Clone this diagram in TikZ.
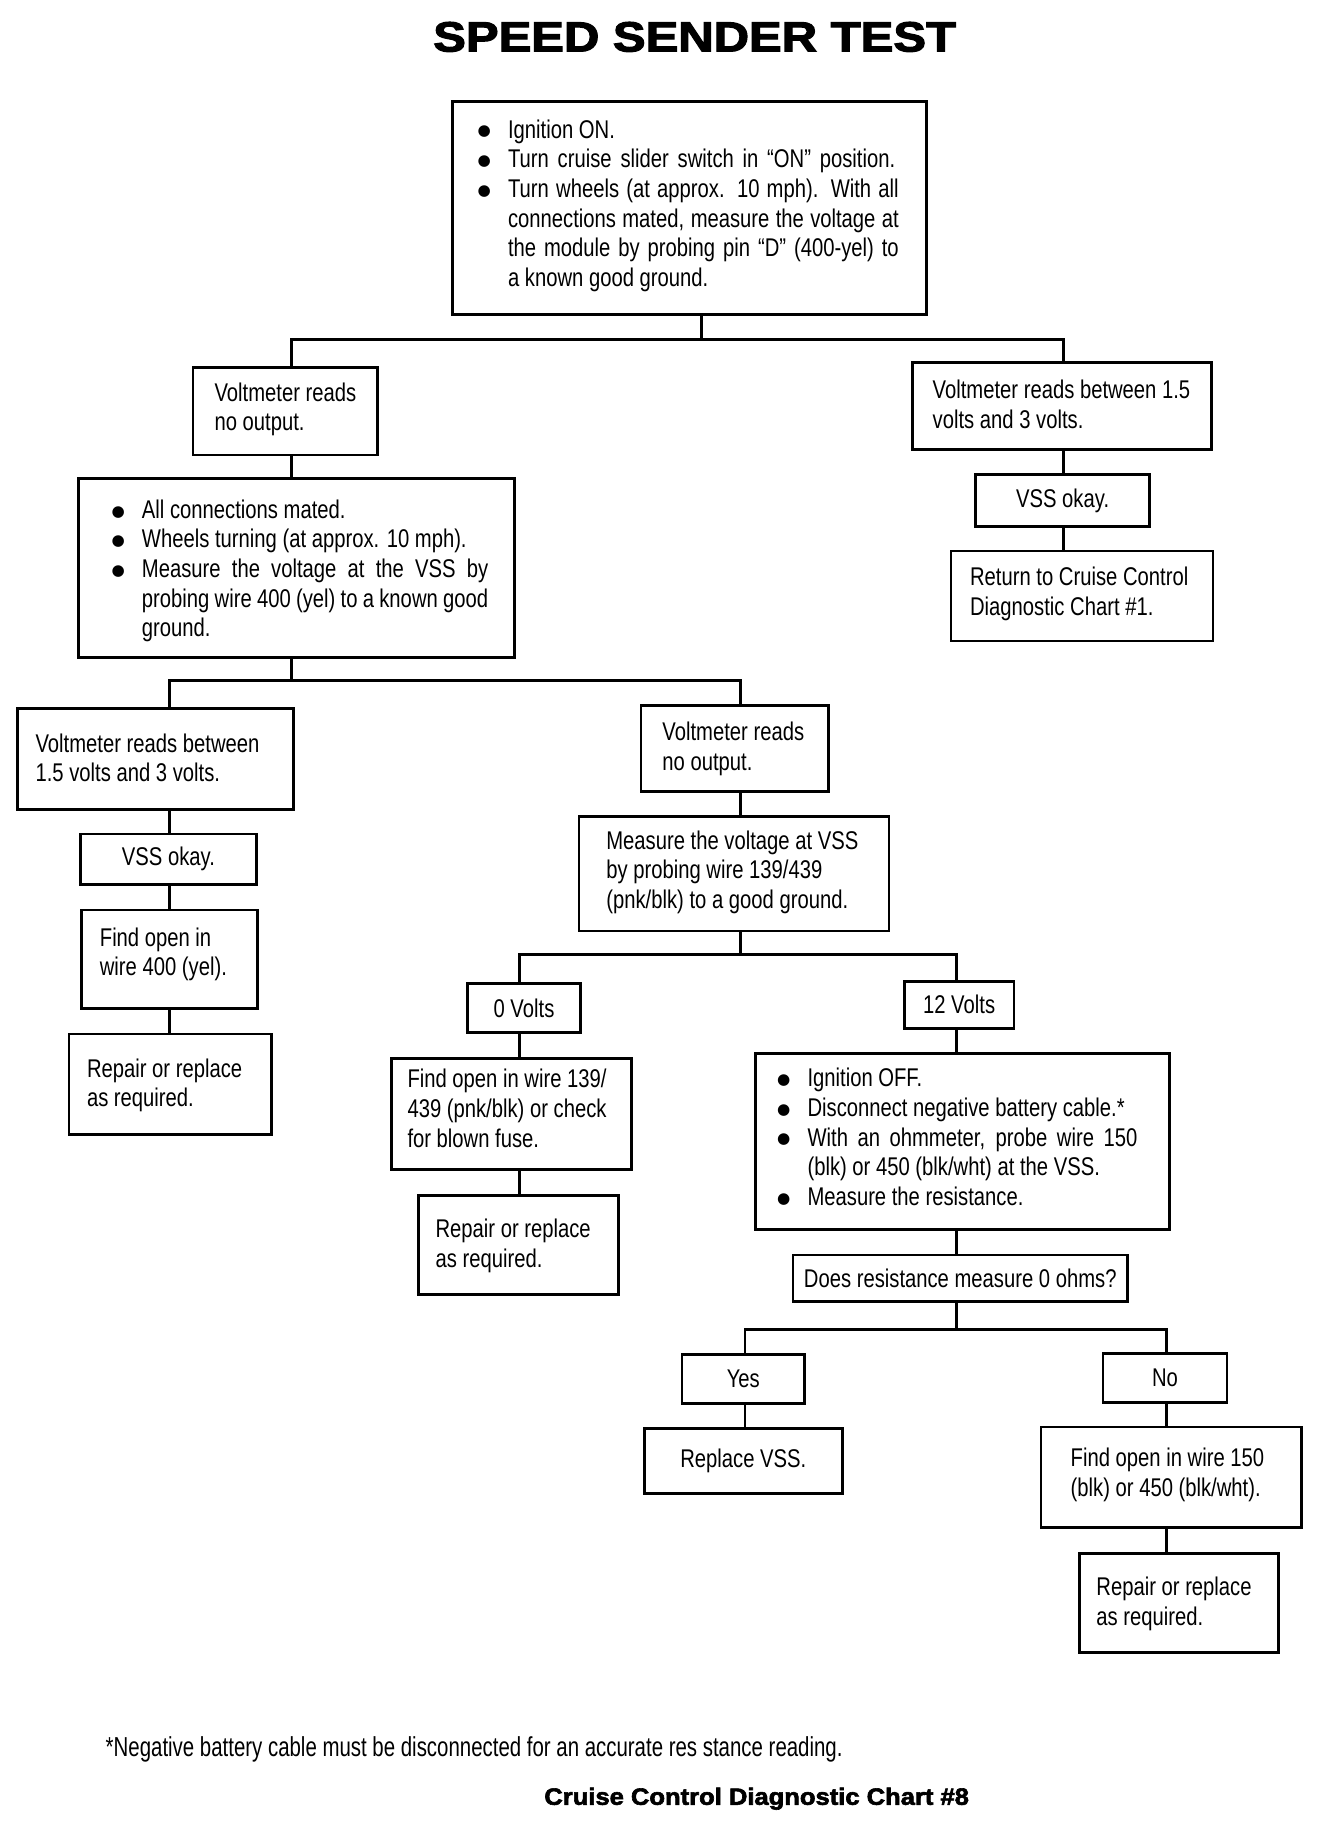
\documentclass[tikz,border=0pt]{standalone}
\usepackage{fontspec}
\usepackage{graphicx}
\setmainfont{Liberation Sans}[FakeStretch=0.79]
\newfontfamily\heavyfont{Liberation Sans}[FakeBold=2.5]
\newfontfamily\symfont{DejaVu Sans}
\newcommand\bodyfont{\fontsize{10.95}{12.7}\selectfont}
\newcommand\lines[1]{\begin{tabular}[t]{@{}l@{}}#1\end{tabular}}
\newcommand\bul{\makebox[13pt][l]{\raisebox{0.9pt}{\symfont\fontsize{6.5}{6.5}\selectfont ●}}}
\newcommand\ind{\hspace*{13pt}}
\newcommand\just[2]{\makebox[#1][s]{#2}}
\newcommand\drbox[6]{\node[boxst, minimum width={(#4-#2)*0.5pt}, minimum height={(#5-#3)*0.5pt}] (#1) at ({(#2+#4)/2},{(#3+#5)/2}) {#6};}
\tikzset{
  boxst/.style={draw, line width=1.2pt, inner sep=0pt, font=\bodyfont, align=center},
  txt/.style={anchor=base west, inner sep=0pt, font=\bodyfont, yshift=-1.5pt},
  conn/.style={line width=1.2pt},
  lbl/.style={anchor=base west, inner sep=0pt}
}
\begin{document}
\begin{tikzpicture}[x=0.5pt, y=-0.5pt]
\fill[white] (0,0) rectangle (1149,1568);
\useasboundingbox (0,0) rectangle (1149,1568);

% title
\node[lbl] (title) at (370,44) {\resizebox{223.5pt}{12.6pt}{\heavyfont\bfseries SPEED SENDER TEST}};

% top box
\drbox{A}{387}{87}{792}{269}{}
\node[txt] (At) at (408,115) {\lines{\bul Ignition ON.\\ \bul \just{165.5pt}{Turn cruise slider switch in ``ON'' position.}\\ \bul \just{167pt}{Turn wheels (at approx. 10 mph). With all}\\ \ind \just{167pt}{connections mated, measure the voltage at}\\ \ind \just{167pt}{the module by probing pin ``D'' (400-yel) to}\\ \ind a known good ground.}};

% level 1
\drbox{B1}{165}{314}{323}{389}{}
\node[txt] (B1t) at (183,340) {\lines{Voltmeter reads\\ no output.}};
\drbox{B2}{780}{310}{1036}{384}{}
\node[txt] (B2t) at (797,338) {\lines{Voltmeter reads between 1.5\\ volts and 3 volts.}};
\drbox{VR}{834}{406}{983}{450}{VSS okay.}
\drbox{RT}{813}{471}{1037}{548}{}
\node[txt] (RTt) at (829,498) {\lines{Return to Cruise Control\\ Diagnostic Chart \#1.}};

% second bullet box
\drbox{C}{67}{409}{440}{562}{}
\node[txt] (Ct) at (95,440) {\lines{\bul All connections mated.\\ \bul Wheels turning (at approx. 10 mph).\\ \bul \just{148pt}{Measure the voltage at the VSS by}\\ \ind \just{148pt}{probing wire 400 (yel) to a known good}\\ \ind ground.}};

% level 2
\drbox{D1}{15}{606}{251}{692}{}
\node[txt] (D1t) at (30,640) {\lines{Voltmeter reads between\\ 1.5 volts and 3 volts.}};
\drbox{D2}{548}{603}{708}{677}{}
\node[txt] (D2t) at (566,630) {\lines{Voltmeter reads\\ no output.}};
\drbox{VL}{69}{713}{219}{756}{VSS okay.}
\drbox{FO}{70}{778}{220}{862}{}
\node[txt] (FOt) at (85,806) {\lines{Find open in\\ wire 400 (yel).}};
\drbox{RL}{59}{884}{232}{970}{}
\node[txt] (RLt) at (74,918) {\lines{Repair or replace\\ as required.}};

\drbox{E}{495}{698}{760}{796}{}
\node[txt] (Et) at (518,723) {\lines{Measure the voltage at VSS\\ by probing wire 139/439\\ (pnk/blk) to a good ground.}};

\drbox{F1}{400}{841}{496}{883}{0 Volts}
\drbox{F2}{773}{839}{867}{879}{12 Volts}

\drbox{G1}{335}{905}{540}{1000}{}
\node[txt] (G1t) at (348,927) {\lines{Find open in wire 139/\\ 439 (pnk/blk) or check\\ for blown fuse.}};
\drbox{H1}{358}{1022}{529}{1107}{}
\node[txt] (H1t) at (372,1055) {\lines{Repair or replace\\ as required.}};

\drbox{G2}{646}{901}{1000}{1051}{}
\node[txt] (G2t) at (664,926) {\lines{\bul Ignition OFF.\\ \bul Disconnect negative battery cable.*\\ \bul \just{141pt}{With an ohmmeter, probe wire 150}\\ \ind (blk) or 450 (blk/wht) at the VSS.\\ \bul Measure the resistance.}};

\drbox{Q}{678}{1073}{964}{1113}{Does resistance measure 0 ohms?}
\drbox{Y}{583}{1158}{688}{1200}{Yes}
\drbox{N}{943}{1157}{1049}{1199}{No}
\drbox{RV}{551}{1221}{720}{1277}{Replace VSS.}
\drbox{FW}{890}{1220}{1113}{1306}{}
\node[txt] (FWt) at (915,1251) {\lines{Find open in wire 150\\ (blk) or 450 (blk/wht).}};
\drbox{RR}{923}{1328}{1093}{1413}{}
\node[txt] (RRt) at (937,1361) {\lines{Repair or replace\\ as required.}};

% connectors
\draw[conn] (A.south -| 600,0) -- (600,290);
\draw[conn] (B1.north -| 249,0) -- (249,290) -- (909,290) -- (B2.north -| 909,0);
\draw[conn] (B2.south -| 909,0) -- (VR.north -| 909,0);
\draw[conn] (VR.south -| 909,0) -- (RT.north -| 909,0);
\draw[conn] (B1.south -| 249,0) -- (C.north -| 249,0);
\draw[conn] (C.south -| 249,0) -- (249,582);
\draw[conn] (D1.north -| 145,0) -- (145,582) -- (633,582) -- (D2.north -| 633,0);
\draw[conn] (D1.south -| 145,0) -- (VL.north -| 145,0);
\draw[conn] (VL.south -| 145,0) -- (FO.north -| 145,0);
\draw[conn] (FO.south -| 145,0) -- (RL.north -| 145,0);
\draw[conn] (D2.south -| 633,0) -- (E.north -| 633,0);
\draw[conn] (E.south -| 633,0) -- (633,816);
\draw[conn] (F1.north -| 444,0) -- (444,816) -- (818,816) -- (F2.north -| 818,0);
\draw[conn] (F1.south -| 444,0) -- (G1.north -| 444,0);
\draw[conn] (G1.south -| 444,0) -- (H1.north -| 444,0);
\draw[conn] (F2.south -| 818,0) -- (G2.north -| 818,0);
\draw[conn] (G2.south -| 818,0) -- (Q.north -| 818,0);
\draw[conn] (Q.south -| 818,0) -- (818,1137);
\draw[conn] (Y.north -| 637,0) -- (637,1137) -- (997,1137) -- (N.north -| 997,0);
\draw[conn] (Y.south -| 637,0) -- (RV.north -| 637,0);
\draw[conn] (N.south -| 997,0) -- (FW.north -| 997,0);
\draw[conn] (FW.south -| 997,0) -- (RR.north -| 997,0);

% footnote and chart label
\node[lbl] (fn) at (90,1502) {\resizebox{315pt}{8.5pt}{*Negative battery cable must be disconnected for an accurate res stance reading.}};
\node[lbl] (chart) at (465,1543) {\resizebox{181.5pt}{7.3pt}{\heavyfont\bfseries Cruise Control Diagnostic Chart \#8}};
\end{tikzpicture}
\end{document}
